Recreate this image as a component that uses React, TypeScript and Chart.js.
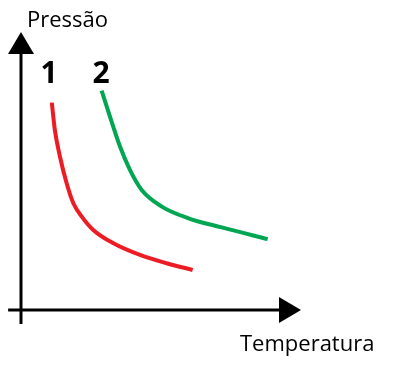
import React, { useEffect, useRef } from "react";
import { Chart, registerables } from "chart.js";

Chart.register(...registerables);

const curve1X = [1.1, 1.21, 1.39, 1.63, 1.87, 2.17, 2.58, 3.3, 4.25, 5.2, 6.13];
const curve1Y = [7.46, 6.47, 5.52, 4.56, 3.84, 3.36, 2.88, 2.4, 1.98, 1.68, 1.44];
const curve2X = [2.88, 3.18, 3.54, 3.89, 4.31, 5.03, 5.98, 7.17, 8.81];
const curve2Y = [7.89, 6.95, 5.87, 5.04, 4.32, 3.72, 3.3, 2.97, 2.55];
const curveLabels = ["1", "2"];
const curveLabelX = [1.0, 2.86];
const curveLabelY = [8.49, 8.49];
const yTitle = "Pressão";
const xTitle = "Temperatura";

const axesPlugin = {
  id: "arrowAxes",
  afterDatasetsDraw(chart: any) {
    const { ctx, scales } = chart;
    const xs = scales.x;
    const ys = scales.y;
    const x0 = xs.getPixelForValue(0);
    const y0 = ys.getPixelForValue(0);
    const xEnd = xs.getPixelForValue(10);
    const yEnd = ys.getPixelForValue(10);
    ctx.save();
    ctx.strokeStyle = "#000";
    ctx.fillStyle = "#000";
    ctx.lineWidth = 3;
    // y axis
    ctx.beginPath();
    ctx.moveTo(x0, ys.getPixelForValue(-0.5));
    ctx.lineTo(x0, yEnd + 20);
    ctx.stroke();
    ctx.beginPath();
    ctx.moveTo(x0, yEnd);
    ctx.lineTo(x0 - 13, yEnd + 22);
    ctx.lineTo(x0 + 13, yEnd + 22);
    ctx.closePath();
    ctx.fill();
    // x axis
    ctx.beginPath();
    ctx.moveTo(xs.getPixelForValue(-0.46), y0);
    ctx.lineTo(xEnd - 20, y0);
    ctx.stroke();
    ctx.beginPath();
    ctx.moveTo(xEnd, y0);
    ctx.lineTo(xEnd - 22, y0 - 13);
    ctx.lineTo(xEnd - 22, y0 + 13);
    ctx.closePath();
    ctx.fill();
    // curve labels
    ctx.font = "bold 30px 'Open Sans'";
    ctx.textAlign = "center";
    ctx.textBaseline = "middle";
    curveLabels.forEach((t, i) => {
      ctx.fillText(t, xs.getPixelForValue(curveLabelX[i]), ys.getPixelForValue(curveLabelY[i]));
    });
    // titles
    ctx.font = "22px 'Open Sans'";
    ctx.textAlign = "left";
    ctx.textBaseline = "alphabetic";
    ctx.fillText(yTitle, x0 + 6, yEnd - 5);
    ctx.fillText(xTitle, xEnd - 61, y0 + 41);
    ctx.restore();
  },
};

export default function App() {
  const ref = useRef<HTMLCanvasElement>(null);
  useEffect(() => {
    document.body.style.margin = "0";
    const toPts = (xs: number[], ys: number[]) => xs.map((x, i) => ({ x, y: ys[i] }));
    const chart = new Chart(ref.current!, {
      type: "scatter",
      data: {
        datasets: [
          {
            data: toPts(curve1X, curve1Y),
            showLine: true,
            borderColor: "rgb(237,28,36)",
            borderWidth: 4,
            pointRadius: 0,
            cubicInterpolationMode: "monotone",
          },
          {
            data: toPts(curve2X, curve2Y),
            showLine: true,
            borderColor: "rgb(0,166,81)",
            borderWidth: 4,
            pointRadius: 0,
            cubicInterpolationMode: "monotone",
          },
        ],
      },
      options: {
        animation: false,
        responsive: false,
        events: [],
        layout: { padding: { left: 21, right: 111, top: 32, bottom: 57 } },
        plugins: { legend: { display: false }, tooltip: { enabled: false } },
        scales: {
          x: { type: "linear", min: 0, max: 10, display: false },
          y: { type: "linear", min: 0, max: 10, display: false },
        },
      },
      plugins: [axesPlugin],
    });
    return () => chart.destroy();
  }, []);
  return (
    <div style={{ width: 412, height: 367, background: "#fff" }}>
      <canvas ref={ref} width={412} height={367} style={{ display: "block" }} />
    </div>
  );
}
